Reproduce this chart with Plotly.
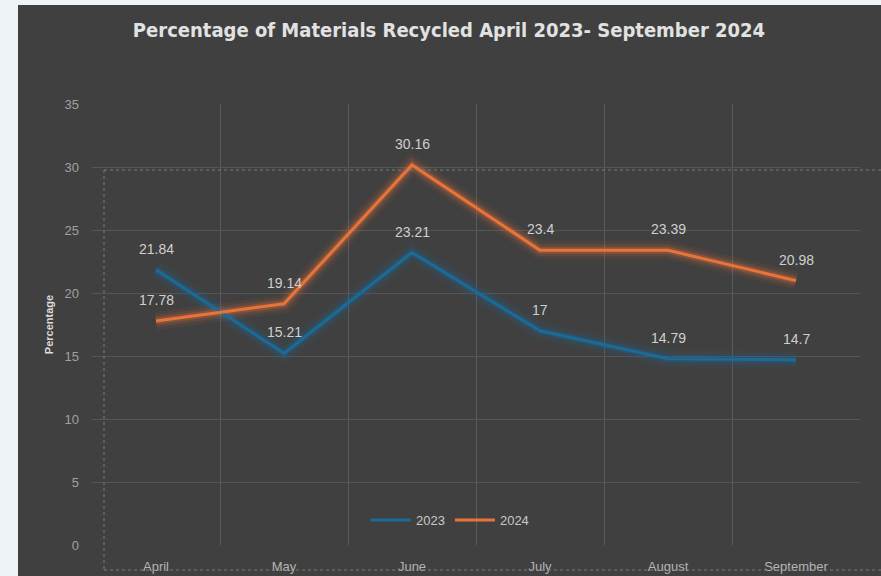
import plotly.graph_objects as go

months = ["April", "May", "June", "July", "August", "September"]
y2023 = [21.84, 15.21, 23.21, 17, 14.79, 14.7]
y2024 = [17.78, 19.14, 30.16, 23.4, 23.39, 20.98]
series = [("2023", y2023, "#1b6a98"), ("2024", y2024, "#ea733a")]

W, H = 881, 576
L, R, T, B = 92, 21, 104, 31
pw, ph = W - L - R, H - T - B


def px(xp):
    return (xp - L) / pw


def py(yp):
    return (H - B - yp) / ph


fig = go.Figure()
for name, vals, col in series:
    for w, op in [(18, 0.07), (12, 0.12), (7, 0.25)]:
        fig.add_trace(go.Scatter(x=months, y=vals, mode="lines", line=dict(color=col, width=w),
                                 opacity=op, showlegend=False, hoverinfo="skip"))
for name, vals, col in series:
    fig.add_trace(go.Scatter(x=months, y=vals, mode="lines", name=name,
                             line=dict(color=col, width=3)))
    for m, v in zip(months, vals):
        fig.add_annotation(x=m, y=v, text=str(v), showarrow=False, yshift=21,
                           font=dict(family="Liberation Sans, Arial, sans-serif", size=14, color="#cfcfcf"))

dot = dict(color="#7a7a7a", width=1, dash="dot")
shapes = [
    dict(type="rect", xref="paper", yref="paper", x0=px(18), x1=px(W + 2), y0=py(H + 2), y1=py(5),
         fillcolor="#404040", line=dict(width=0), layer="below"),
    dict(type="line", xref="paper", yref="paper", x0=px(104), x1=px(W), y0=py(170), y1=py(170), line=dot),
    dict(type="line", xref="paper", yref="paper", x0=px(104), x1=px(104), y0=py(170), y1=py(570), line=dot),
    dict(type="line", xref="paper", yref="paper", x0=px(104), x1=px(W), y0=py(570), y1=py(570), line=dot),
]

fig.update_layout(
    width=W, height=H,
    margin=dict(l=L, r=R, t=T, b=B, autoexpand=False),
    paper_bgcolor="#eef3f8",
    plot_bgcolor="rgba(0,0,0,0)",
    shapes=shapes,
    title=dict(text="<b>Percentage of Materials Recycled April 2023- September 2024</b>",
               x=449 / W, xanchor="center", y=1 - 30 / H, yanchor="middle",
               font=dict(family="Liberation Sans Narrow, DejaVu Sans Condensed, sans-serif", size=20, color="#e2e2e2")),
    legend=dict(orientation="h", x=px(450), xanchor="center", y=py(520), yanchor="middle",
                bgcolor="rgba(0,0,0,0)", font=dict(family="Liberation Sans, Arial, sans-serif", size=13, color="#c8c8c8"),
                itemwidth=40, tracegroupgap=0),
    xaxis=dict(type="category", range=[-0.5, 5.5], tickson="boundaries", showgrid=True,
               gridcolor="#5a5a5a", gridwidth=1, zeroline=False, showline=False, automargin=False,
               ticks="", ticklabelstandoff=12,
               tickfont=dict(family="Liberation Sans, Arial, sans-serif", size=13, color="#b5b5b5")),
    yaxis=dict(range=[0, 35], dtick=5, showgrid=True, gridcolor="#555555", gridwidth=1, automargin=False,
               zeroline=False, showline=False, ticks="", ticklabelstandoff=12,
               tickfont=dict(family="Liberation Sans, Arial, sans-serif", size=13, color="#a0a0a0"),
               title=dict(text="<b>Percentage</b>", standoff=8,
                          font=dict(family="Liberation Sans, Arial, sans-serif", size=11, color="#dcdcdc"))),
    showlegend=True,
)

fig.write_html("out.html", config={"displayModeBar": False},
               post_script="document.body.style.margin='0';")
